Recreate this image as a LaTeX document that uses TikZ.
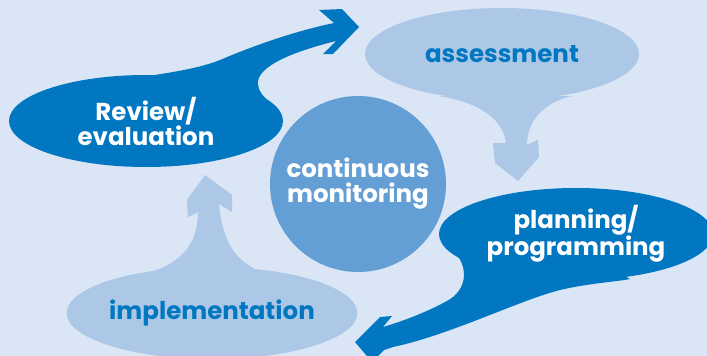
\documentclass[tikz,border=0pt]{standalone}
\usepackage{fontspec}
\setmainfont{Poppins}
\usetikzlibrary{shapes.geometric}
\usetikzlibrary{positioning}
\definecolor{bg_blue}{RGB}{218,229,245}
\definecolor{dark_blue}{RGB}{0,119,192}
\definecolor{light_blue}{RGB}{173,200,230}
\definecolor{mid_blue}{RGB}{99,159,212}
\tikzstyle{dark_blob} = [
    ellipse, 
    white, 
    font=\fontsize{24.5}{25}\selectfont\bfseries, 
    fill=dark_blue, 
    align=center, 
    inner sep=0pt, 
    minimum width=274pt, 
    minimum height=92pt
]
\tikzstyle{light_blob} = [
    ellipse, 
    text=dark_blue, 
    font=\fontsize{24.5}{25}\selectfont\bfseries, 
    fill=light_blue, 
    align=center, 
    inner sep=0pt, 
    minimum width=274pt, 
    minimum height=92pt
]
\tikzstyle{monitor_node} = [
    circle, 
    white, 
    font=\fontsize{24.5}{25}\selectfont\bfseries, 
    fill=mid_blue, 
    align=center, 
    inner sep=0pt, 
    minimum size=176pt
]
\begin{document}
\begin{tikzpicture}[x=1pt, y=-1pt]
\useasboundingbox (0,0) rectangle (707,356);
\clip (0,0) rectangle (707,356);
\fill [bg_blue] (0,0) rectangle (707,356);

% tails
\fill [dark_blue] (135,78) .. controls (175,72) and (200,68) .. (220,60)
    .. controls (260,43) and (300,30) .. (334,23) -- (319,10) -- (342,9)
    -- (359,27) -- (333,54) -- (323,54) -- (336,41)
    .. controls (300,50) and (255,65) .. (258,85)
    .. controls (260,100) and (280,105) .. (282,118) -- (200,120) -- cycle;
\fill [light_blue] (437,96) .. controls (470,100) and (503,115) .. (506,143)
    -- (493,143) -- (495,163) -- (518,181) -- (539,157) -- (538,140)
    -- (527,145) .. controls (527,120) and (545,102) .. (572,96) -- cycle;
\fill [dark_blue] (447,245) .. controls (470,262) and (470,290) .. (445,302)
    .. controls (425,313) and (400,322) .. (383,327) -- (392,316) -- (380,317)
    -- (355,342) -- (372,362) -- (384,350) -- (393,347)
    .. controls (450,335) and (520,300) .. (560,290)
    .. controls (590,283) and (615,282) .. (630,279) -- (560,240) -- cycle;
\fill [light_blue] (150,272) .. controls (185,262) and (198,240) .. (198,212)
    -- (188,217) -- (187,200) -- (205,175) -- (232,195) -- (232,212)
    -- (219,204) .. controls (222,240) and (235,262) .. (262,272) -- cycle;

% blobs
\node [dark_blob] (review) at (146,121) {Review/\\evaluation};
\node [light_blob] (assess) at (502,54) {assessment};
\node [dark_blob] (plan) at (576,234) {planning/\\programming};
\node [light_blob] (impl) at (212,313) {implementation};
\node [monitor_node] (monitor) at (358,184) {continuous\\monitoring};
\end{tikzpicture}
\end{document}
